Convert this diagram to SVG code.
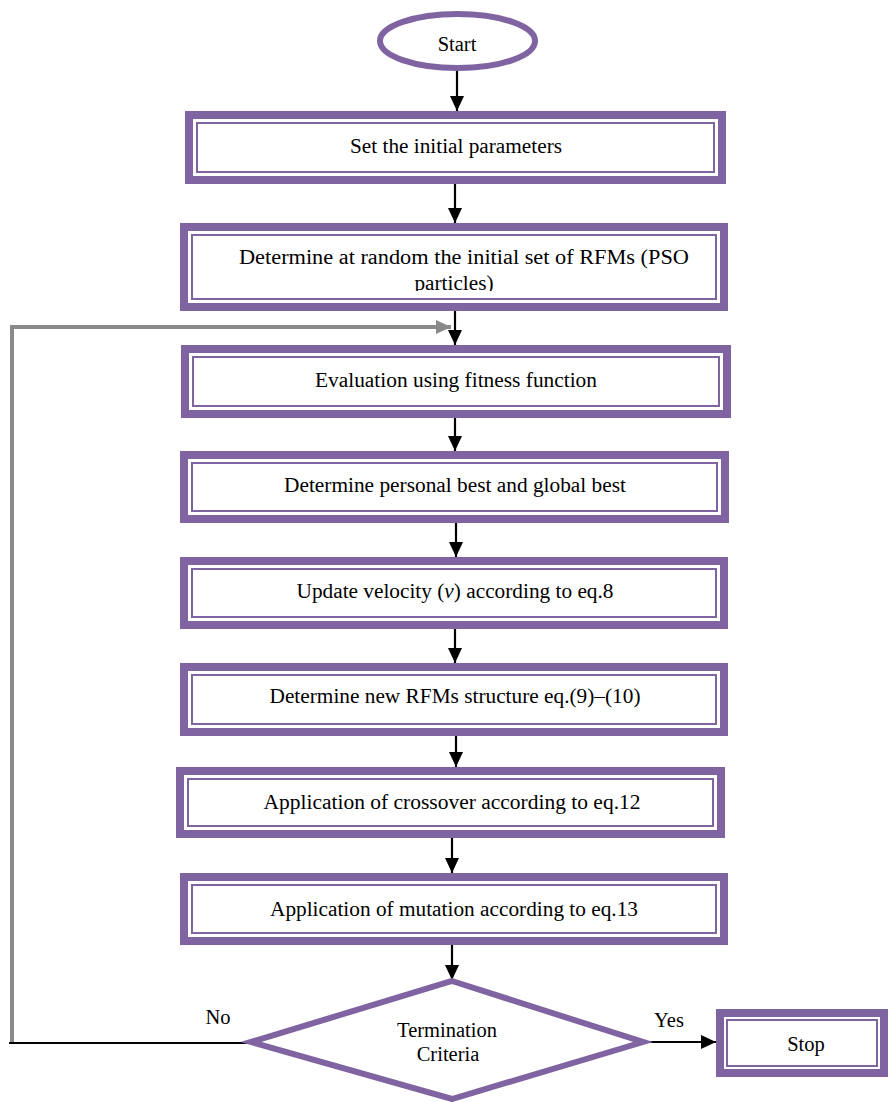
<svg xmlns="http://www.w3.org/2000/svg" width="889" height="1102" viewBox="0 0 889 1102">
<style>
.outer{fill:#fff;stroke:#8064A2;stroke-width:8}
.inner{fill:none;stroke:#8064A2;stroke-width:2}
.t{font-family:"Liberation Serif","Times New Roman",serif;font-size:20.5px;fill:#000;text-anchor:middle}
.c{fill:none;stroke:#000;stroke-width:2.2}
.g{fill:none;stroke:#8a8a8a;stroke-width:4}
</style>
<defs>
<marker id="ah" markerUnits="userSpaceOnUse" markerWidth="16" markerHeight="16" refX="15" refY="8" orient="auto">
<path d="M0,1 L15,8 L0,15 Z" fill="#000"/>
</marker>
<marker id="ahg" markerUnits="userSpaceOnUse" markerWidth="16" markerHeight="16" refX="15" refY="8" orient="auto">
<path d="M0,1 L15,8 L0,15 Z" fill="#8a8a8a"/>
</marker>
<clipPath id="clip2"><rect x="190" y="230" width="530" height="61"/></clipPath>
</defs>

<g id="connectors">
<path class="g" d="M12,1043 V327 H451" marker-end="url(#ahg)"/>
<path class="c" d="M9,1043 H250"/>
<path class="c" d="M457,71 V111" marker-end="url(#ah)"/>
<path class="c" d="M455,184 V223" marker-end="url(#ah)"/>
<path class="c" d="M455,311 V345" marker-end="url(#ah)"/>
<path class="c" d="M455,418 V451" marker-end="url(#ah)"/>
<path class="c" d="M456,523 V557" marker-end="url(#ah)"/>
<path class="c" d="M455,629 V663" marker-end="url(#ah)"/>
<path class="c" d="M456,736 V767" marker-end="url(#ah)"/>
<path class="c" d="M452,838 V873" marker-end="url(#ah)"/>
<path class="c" d="M452,945 V980" marker-end="url(#ah)"/>
<path class="c" d="M643,1042 H716" marker-end="url(#ah)"/>
<text class="t" x="218" y="1024">No</text>
<text class="t" x="669" y="1027">Yes</text>
</g>

<g id="start">
<ellipse cx="457.5" cy="41" rx="77.5" ry="27" fill="#fff" stroke="#8064A2" stroke-width="6"/>
<text class="t" x="457" y="51">Start</text>
</g>

<g id="n1">
<rect class="outer" x="189" y="115" width="533" height="65"/>
<rect class="inner" x="197" y="123" width="517" height="49"/>
<text class="t" x="456" y="153" textLength="212" lengthAdjust="spacingAndGlyphs">Set the initial parameters</text>
</g>

<g id="n2">
<rect class="outer" x="184" y="227" width="540" height="80"/>
<rect class="inner" x="192" y="235" width="524" height="64"/>
<text class="t" x="464" y="264" textLength="450" lengthAdjust="spacingAndGlyphs">Determine at random the initial set of RFMs (PSO</text>
<text class="t" x="454" y="290" clip-path="url(#clip2)" textLength="79" lengthAdjust="spacingAndGlyphs">particles)</text>
</g>

<g id="n3">
<rect class="outer" x="185" y="349" width="542" height="65"/>
<rect class="inner" x="193" y="357" width="526" height="49"/>
<text class="t" x="456" y="387" textLength="282" lengthAdjust="spacingAndGlyphs">Evaluation using fitness function</text>
</g>

<g id="n4">
<rect class="outer" x="184" y="455" width="541" height="64"/>
<rect class="inner" x="192" y="463" width="525" height="48"/>
<text class="t" x="455" y="492" textLength="342" lengthAdjust="spacingAndGlyphs">Determine personal best and global best</text>
</g>

<g id="n5">
<rect class="outer" x="184" y="561" width="540" height="64"/>
<rect class="inner" x="192" y="569" width="524" height="48"/>
<text class="t" x="455" y="598" textLength="317" lengthAdjust="spacingAndGlyphs">Update velocity (<tspan font-style="italic">v</tspan>) according to eq.8</text>
</g>

<g id="n6">
<rect class="outer" x="184" y="667" width="540" height="65"/>
<rect class="inner" x="192" y="675" width="524" height="49"/>
<text class="t" x="455" y="703" textLength="371" lengthAdjust="spacingAndGlyphs">Determine new RFMs structure eq.(9)–(10)</text>
</g>

<g id="n7">
<rect class="outer" x="180" y="771" width="541" height="63"/>
<rect class="inner" x="188" y="779" width="525" height="47"/>
<text class="t" x="452" y="809" textLength="377" lengthAdjust="spacingAndGlyphs">Application of crossover according to eq.12</text>
</g>

<g id="n8">
<rect class="outer" x="184" y="877" width="540" height="64"/>
<rect class="inner" x="192" y="885" width="524" height="48"/>
<text class="t" x="454" y="916" textLength="368" lengthAdjust="spacingAndGlyphs">Application of mutation according to eq.13</text>
</g>

<g id="decision">
<polygon points="452,981 643,1042 452,1099 251,1042" fill="#fff" stroke="#8064A2" stroke-width="6"/>
<text class="t" x="447" y="1037">Termination</text>
<text class="t" x="448" y="1061">Criteria</text>
</g>

<g id="stop">
<rect class="outer" x="720" y="1013" width="164" height="60"/>
<rect class="inner" x="727" y="1020" width="150" height="46"/>
<text class="t" x="806" y="1051">Stop</text>
</g>
</svg>
